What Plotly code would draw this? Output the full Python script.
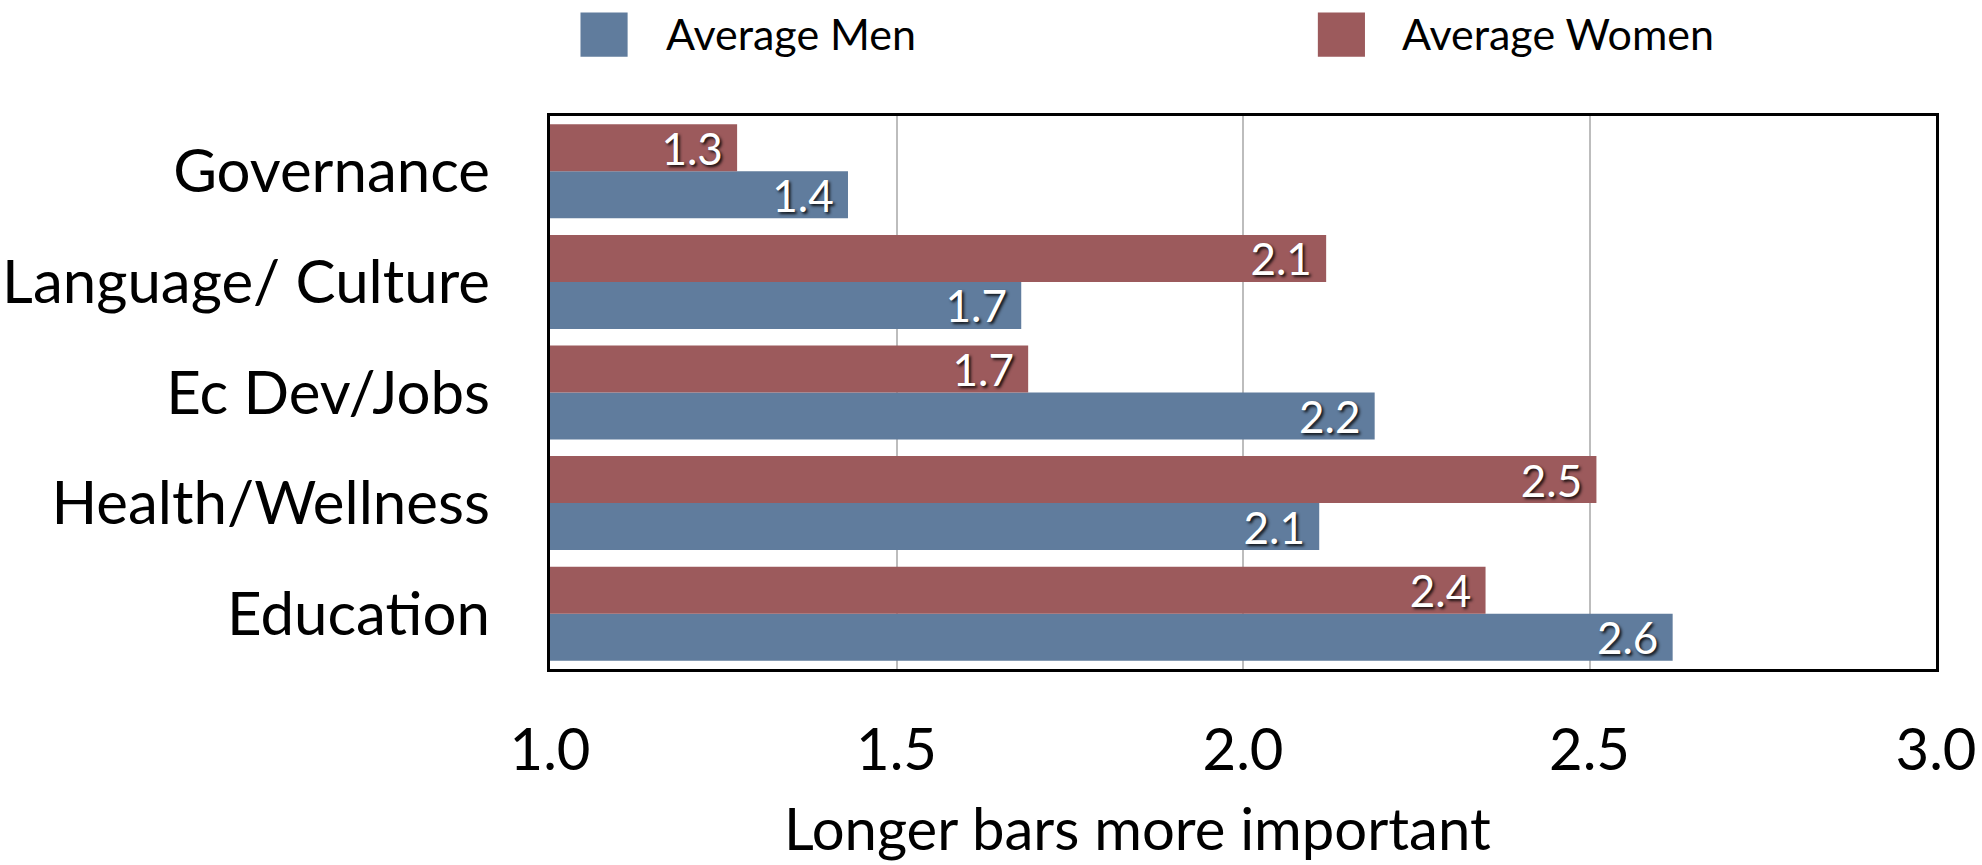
import plotly.graph_objects as go

# categories top to bottom
CATEGORIES = ["Governance", "Language/ Culture", "Ec Dev/Jobs", "Health/Wellness", "Education"]
MEN = [1.43, 1.68, 2.19, 2.11, 2.62]
WOMEN = [1.27, 2.12, 1.69, 2.51, 2.35]
SERIES_NAMES = ["Average Men", "Average Women"]
X_TICKS = [1.0, 1.5, 2.0, 2.5, 3.0]
X_TITLE = "Longer bars more important"

COLOR_MEN = "#607c9d"
COLOR_WOMEN = "#9c5a5c"
FONT = "Lato, 'Open Sans', sans-serif"

fig = go.Figure()
for name, vals, color in [(SERIES_NAMES[0], MEN, COLOR_MEN), (SERIES_NAMES[1], WOMEN, COLOR_WOMEN)]:
    fig.add_trace(go.Bar(
        x=vals, y=CATEGORIES, name=name, orientation="h",
        base=0,
        marker=dict(color=color, line=dict(width=0)),
        text=[f"{v:.1f}\u00a0" for v in vals],
        textposition="inside", insidetextanchor="end",
        constraintext="none", cliponaxis=True,
        textfont=dict(family=FONT, size=44, color="white",
                      shadow="2px 2px 3px rgba(0,0,0,0.85)"),
        showlegend=False,
    ))

# legend drawn by hand so the swatches can be large (paper coords of the plot area)
legend_items = [(SERIES_NAMES[0], COLOR_MEN, 0.022, 0.082), (SERIES_NAMES[1], COLOR_WOMEN, 0.554, 0.613)]
for name, color, sx, tx in legend_items:
    fig.add_shape(type="rect", xref="paper", yref="paper",
                  x0=sx, x1=sx + 0.034, y0=1.107, y1=1.187,
                  fillcolor=color, line=dict(width=0), layer="above")
    fig.add_annotation(x=tx, y=1.149, xref="paper", yref="paper",
                       text=name, showarrow=False, xanchor="left", yanchor="middle",
                       font=dict(family=FONT, size=43, color="black"))

# axis title sits left of centre in the original
fig.add_annotation(x=0.424, y=-0.286, xref="paper", yref="paper",
                   text=X_TITLE, showarrow=False, xanchor="center", yanchor="middle",
                   font=dict(family=FONT, size=58, color="black"))

fig.update_layout(
    width=1982, height=865,
    barmode="group", bargap=0.15, bargroupgap=0,
    plot_bgcolor="white", paper_bgcolor="white",
    margin=dict(l=550, r=46, t=116, b=196),
    font=dict(family=FONT, color="black"),
)
fig.update_xaxes(
    range=[1, 3], tickvals=X_TICKS, ticktext=[f"{t:.1f}" for t in X_TICKS],
    showgrid=True, gridcolor="#bdbdbd", gridwidth=1.5,
    showline=True, linecolor="black", linewidth=3, mirror=True,
    ticks="", ticklabelstandoff=28, automargin=False,
    tickfont=dict(family=FONT, size=58),
    zeroline=False,
)
fig.update_yaxes(
    categoryorder="array", categoryarray=CATEGORIES[::-1],
    showgrid=False, showline=True, linecolor="black", linewidth=3, mirror=True,
    ticks="", ticklabelstandoff=45, automargin=False,
    tickfont=dict(family=FONT, size=60),
)

fig.write_html("out.html", config={"displayModeBar": False},
               post_script="document.body.style.margin='0';")
